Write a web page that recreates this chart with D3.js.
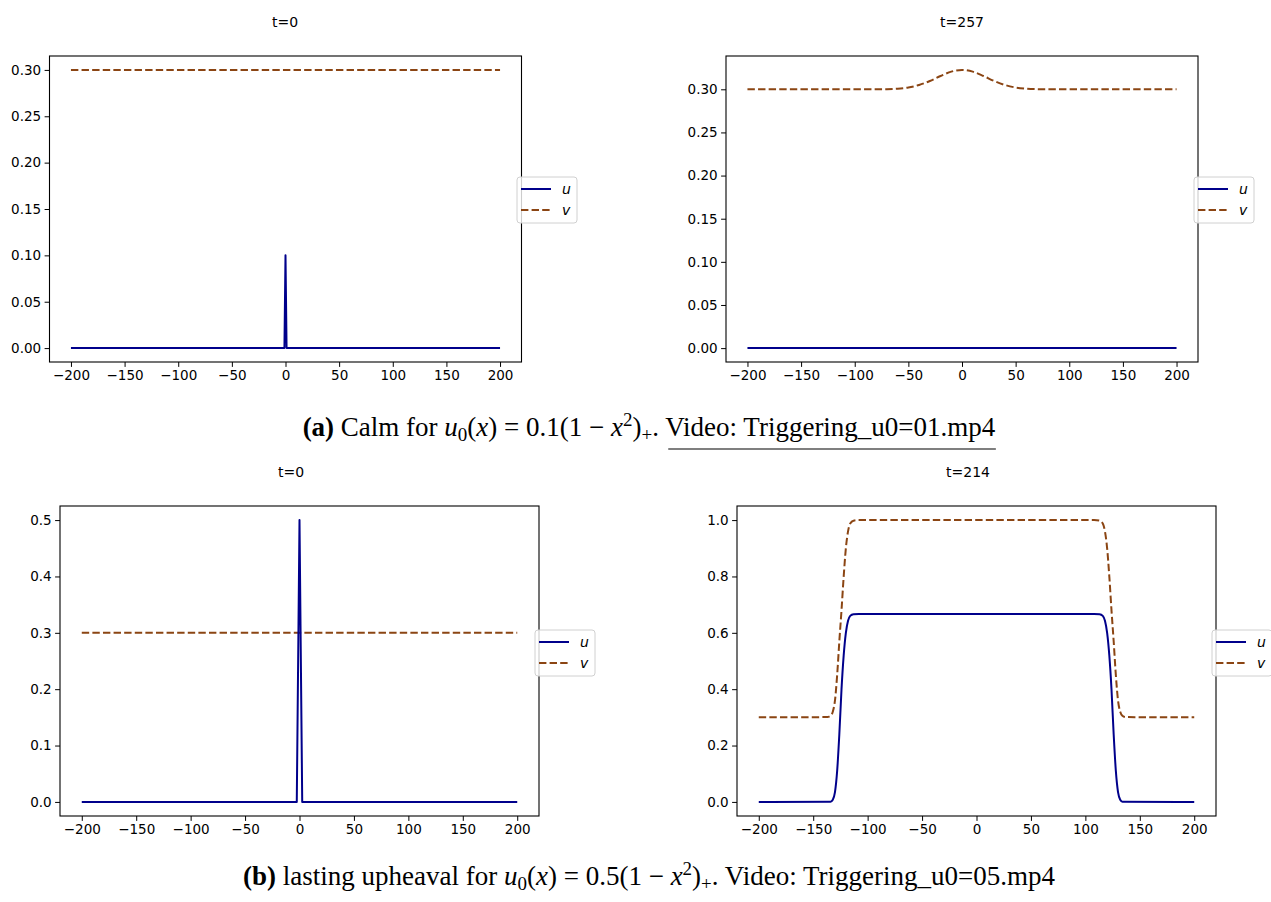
<!DOCTYPE html>
<html><head><meta charset="utf-8">
<script src="https://cdn.jsdelivr.net/npm/d3@7"></script>
<style>body{margin:0;background:#fff}svg{display:block}</style>
</head><body>
<svg id="c" width="1271" height="902"></svg>
<script>
// ---- data ----
const xTicks = [-200,-150,-100,-50,0,50,100,150,200];
const yTicksTop = [0.00,0.05,0.10,0.15,0.20,0.25,0.30];
const yTicksB1 = [0.0,0.1,0.2,0.3,0.4,0.5];
const yTicksB2 = [0.0,0.2,0.4,0.6,0.8,1.0];
const titles = ["t=0","t=257","t=0","t=214"];

// panel (a) t=0
const a0_u_x = [-200,-1,0,1,200];
const a0_u_y = [0,0,0.1,0,0];
const a0_v_x = [-200,200];
const a0_v_y = [0.3,0.3];
// panel (a) t=257
const a1_u_x = [-200,200];
const a1_u_y = [0,0];
const a1_v_x = [-200,-80,-70,-60,-50,-40,-30,-20,-10,0,10,20,30,40,50,60,70,80,200];
const a1_v_y = [0.3,0.3001,0.3002,0.3007,0.3021,0.3050,0.3096,0.3154,0.3205,0.3225,0.3205,0.3154,0.3096,0.3050,0.3021,0.3007,0.3002,0.3001,0.3];
// panel (b) t=0
const b0_u_x = [-200,-2.5,0,2.5,200];
const b0_u_y = [0,0,0.5,0,0];
const b0_v_x = [-200,200];
const b0_v_y = [0.3,0.3];
// panel (b) t=214
const b1_u_x = [-200,-134,-132,-130,-128,-126,-124,-122,-120,-118,-116,-113,-108,108,113,116,118,120,122,124,126,128,130,132,134,200];
const b1_u_y = [0,0.001,0.008,0.035,0.11,0.24,0.40,0.52,0.60,0.643,0.66,0.666,0.667,0.667,0.666,0.66,0.643,0.60,0.52,0.40,0.24,0.11,0.035,0.008,0.001,0];
const b1_v_x = [-200,-137,-134,-132,-130,-128,-126,-124,-122,-120,-118,-116,-113,-108,108,113,116,118,120,122,124,126,128,130,132,134,137,200];
const b1_v_y = [0.3,0.301,0.306,0.32,0.36,0.45,0.57,0.68,0.80,0.90,0.96,0.988,0.998,1.0,1.0,0.998,0.988,0.96,0.90,0.80,0.68,0.57,0.45,0.36,0.32,0.306,0.301,0.3];

const seriesNames = ["u","v"];
const uColor = "#00008b", vColor = "#8b4513";

const svg = d3.select("#c");
const tickFont = "DejaVu Sans, sans-serif";

function panel(o){
  const x = d3.scaleLinear().domain([-220,220]).range([o.l,o.r]);
  const y = d3.scaleLinear().domain(o.yd).range([o.b,o.t]);
  const g = svg.append("g");
  const smooth = d3.line().x(d=>x(d[0])).y(d=>y(d[1])).curve(d3.curveMonotoneX);
  const straight = d3.line().x(d=>x(d[0])).y(d=>y(d[1]));
  const zip = (xs,ys)=>xs.map((v,i)=>[v,ys[i]]);
  g.append("path").attr("d",smooth(zip(o.vx,o.vy))).attr("fill","none")
    .attr("stroke",vColor).attr("stroke-width",2).attr("stroke-dasharray","7.4,3.2");
  g.append("path").attr("d",(o.smoothU ? smooth : straight)(zip(o.ux,o.uy))).attr("fill","none")
    .attr("stroke",uColor).attr("stroke-width",2).attr("stroke-linejoin","round");
  // axes
  const xa = g.append("g").attr("transform",`translate(0,${o.b})`)
    .call(d3.axisBottom(x).tickValues(xTicks).tickSize(4.9).tickPadding(3.5).tickFormat(d3.format("d")));
  const ya = g.append("g").attr("transform",`translate(${o.l},0)`)
    .call(d3.axisLeft(y).tickValues(o.yt).tickSize(4.9).tickPadding(3.5).tickFormat(d3.format(o.fmt)));
  [xa,ya].forEach(a=>{
    a.select(".domain").remove();
    a.selectAll("text").attr("font-family",tickFont).attr("font-size",13.5).attr("fill","#000");
    a.selectAll("line").attr("stroke","#000").attr("stroke-width",1);
  });
  g.append("rect").attr("x",o.l).attr("y",o.t).attr("width",o.r-o.l).attr("height",o.b-o.t)
    .attr("fill","none").attr("stroke","#000").attr("stroke-width",1.1);
  // title
  g.append("text").attr("x",o.tx).attr("y",o.ty).attr("text-anchor","middle")
    .attr("font-family",tickFont).attr("font-size",14).text(o.title);
  // legend
  const lg = g.append("g").attr("transform",`translate(${o.lx},${o.ly})`);
  lg.append("rect").attr("x",0).attr("y",0).attr("width",60).attr("height",46).attr("rx",3)
    .attr("fill","#fff").attr("fill-opacity",0.8).attr("stroke","#d0d0d0").attr("stroke-width",1);
  [[uColor,null],[vColor,"7.4,3.2"]].forEach((s,i)=>{
    const yy = 12 + i*21;
    lg.append("line").attr("x1",4).attr("x2",34).attr("y1",yy).attr("y2",yy)
      .attr("stroke",s[0]).attr("stroke-width",2).attr("stroke-dasharray",s[1]);
    lg.append("text").attr("x",45).attr("y",yy+5).attr("font-family",tickFont)
      .attr("font-style","italic").attr("font-size",14).text(seriesNames[i]);
  });
}

panel({l:49.5,r:521.5,t:56,b:362,yd:[-0.015,0.315],yt:yTicksTop,fmt:".2f",
  ux:a0_u_x,uy:a0_u_y,vx:a0_v_x,vy:a0_v_y,title:titles[0],tx:285,ty:27,lx:517,ly:177});
panel({l:726,r:1198,t:56,b:362,yd:[-0.0161,0.3386],yt:yTicksTop,fmt:".2f",
  ux:a1_u_x,uy:a1_u_y,vx:a1_v_x,vy:a1_v_y,title:titles[1],tx:962,ty:27,lx:1194,ly:177});
panel({l:60,r:539,t:506,b:816,yd:[-0.025,0.525],yt:yTicksB1,fmt:".1f",
  ux:b0_u_x,uy:b0_u_y,vx:b0_v_x,vy:b0_v_y,title:titles[2],tx:291,ty:477,lx:535,ly:630});
panel({l:737,r:1216,t:506,b:816,yd:[-0.05,1.05],yt:yTicksB2,fmt:".1f",smoothU:true,
  ux:b1_u_x,uy:b1_u_y,vx:b1_v_x,vy:b1_v_y,title:titles[3],tx:968,ty:477,lx:1212,ly:630});

// captions
function caption(y, parts, underlineFrom){
  const t = svg.append("text").attr("x",649).attr("y",y).attr("text-anchor","middle")
    .attr("font-family","Liberation Serif, Times New Roman, serif").attr("font-size",27).attr("fill","#000");
  const spans = [];
  parts.forEach(p=>{
    const s = t.append("tspan").text(p.s);
    if(p.b) s.attr("font-weight","bold");
    if(p.i) s.attr("font-style","italic");
    if(p.dy) s.attr("dy",p.dy);
    if(p.fs) s.attr("font-size",p.fs);
    spans.push(s);
  });
  if(underlineFrom!=null){
    const bb0 = spans[underlineFrom].node().getBBox();
    svg.append("line").attr("x1",bb0.x+3).attr("x2",bb0.x+bb0.width).attr("y1",y+13).attr("y2",y+13)
      .attr("stroke","#000").attr("stroke-width",1.2);
  }
}
const capA = [
  {s:"(a)",b:1},{s:" Calm for "},{s:"u",i:1},{s:"0",fs:19,dy:5},{s:"(",dy:-5},{s:"x",i:1},
  {s:") = 0.1(1 − "},{s:"x",i:1},{s:"2",fs:19,dy:-10},{s:")",dy:10},{s:"+",fs:19,dy:5},{s:". ",dy:-5},
  {s:"Video: Triggering_u0=01.mp4"}
];
const capB = [
  {s:"(b)",b:1},{s:" lasting upheaval for "},{s:"u",i:1},{s:"0",fs:19,dy:5},{s:"(",dy:-5},{s:"x",i:1},
  {s:") = 0.5(1 − "},{s:"x",i:1},{s:"2",fs:19,dy:-10},{s:")",dy:10},{s:"+",fs:19,dy:5},{s:". ",dy:-5},
  {s:"Video: Triggering_u0=05.mp4"}
];
caption(436, capA, 12);
caption(885, capB, null);
</script>
</body></html>
